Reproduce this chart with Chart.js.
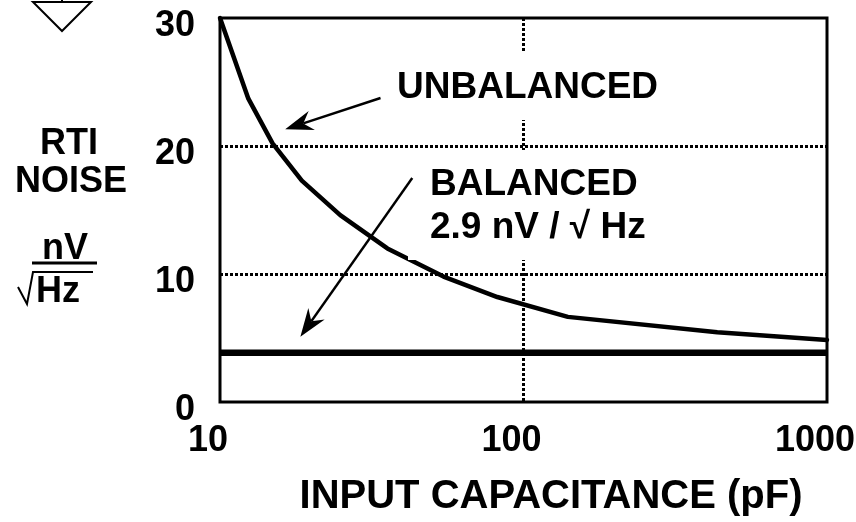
<!DOCTYPE html>
<html>
<head>
<meta charset="utf-8">
<script src="https://cdn.jsdelivr.net/npm/chart.js@4.4.1/dist/chart.umd.min.js"></script>
<style>
  html, body { margin: 0; padding: 0; background: #fff; }
</style>
</head>
<body>
<canvas id="chart" width="856" height="522"></canvas>
<script>
const capacitance = [10, 12.4, 14.9, 18.6, 24.9, 35.6, 54.5, 82, 140, 435, 1000];
const unbalancedNoise = [30, 23.7, 20.2, 17.3, 14.6, 12.0, 9.8, 8.2, 6.65, 5.45, 4.85];
const balancedCapacitance = [10, 1000];
const balancedNoise = [3.85, 3.85];
const xTicks = [10, 100, 1000];
const yTicks = [0, 10, 20, 30];
const gridX = [100];
const gridY = [10, 20];

const FONT = '"Liberation Sans", Arial, Helvetica, sans-serif';
const tickFont = { family: FONT, size: 36, weight: 'bold' };

function points(xs, ys) {
  return xs.map((x, i) => ({ x, y: ys[i] }));
}

function arrow(ctx, x1, y1, x2, y2) {
  const ang = Math.atan2(y2 - y1, x2 - x1);
  const len = 28, half = 10, notch = 19;
  ctx.beginPath();
  ctx.moveTo(x1, y1);
  ctx.lineTo(x2 - Math.cos(ang) * notch, y2 - Math.sin(ang) * notch);
  ctx.lineWidth = 2.4;
  ctx.stroke();
  ctx.save();
  ctx.translate(x2, y2);
  ctx.rotate(ang);
  ctx.beginPath();
  ctx.moveTo(0, 0);
  ctx.lineTo(-len, -half);
  ctx.lineTo(-notch, 0);
  ctx.lineTo(-len, half);
  ctx.closePath();
  ctx.fill();
  ctx.restore();
}

// labels, arrows, frame and the left-hand unit block
const annotations = {
  id: 'annotations',
  afterDatasetsDraw(chart) {
    const { ctx, chartArea: a, scales: { x, y } } = chart;
    ctx.save();
    ctx.strokeStyle = '#000';

    // white boxes behind the curve labels
    ctx.fillStyle = '#fff';
    ctx.fillRect(385, 53, 285, 67);
    ctx.fillRect(408, 150, 247, 110);
    ctx.fillStyle = '#000';

    ctx.font = `bold 37px ${FONT}`;
    ctx.textBaseline = 'middle';
    ctx.textAlign = 'left';
    ctx.fillText('UNBALANCED', 397, 88);
    ctx.fillText('BALANCED', 430, 185);
    ctx.fillText('2.9 nV / \u221A Hz', 430, 228);

    arrow(ctx, x.getPixelForValue(33.8), y.getPixelForValue(23.75),
      x.getPixelForValue(16.4), y.getPixelForValue(21.3));
    arrow(ctx, x.getPixelForValue(43), y.getPixelForValue(17.5),
      x.getPixelForValue(18.4), y.getPixelForValue(5.1));

    // plot frame
    ctx.lineWidth = 3;
    ctx.strokeRect(a.left, a.top, a.right - a.left, a.bottom - a.top);

    // y axis title
    ctx.font = `bold 36px ${FONT}`;
    ctx.textAlign = 'center';
    ctx.fillText('RTI', 69, 144);
    ctx.fillText('NOISE', 71, 182);
    ctx.fillText('nV', 65, 249);
    ctx.fillText('Hz', 58, 292);
    ctx.lineWidth = 3;
    ctx.beginPath();
    ctx.moveTo(32, 263);
    ctx.lineTo(97, 263);
    ctx.stroke();
    ctx.lineWidth = 2;
    ctx.beginPath();
    ctx.moveTo(18, 287);
    ctx.lineTo(27, 304);
    ctx.lineTo(33, 272);
    ctx.lineTo(93, 272);
    ctx.stroke();

    // x axis title
    ctx.font = `bold 40px ${FONT}`;
    ctx.fillText('INPUT CAPACITANCE (pF)', 551, 497);

    // ground symbol cut off at the top
    ctx.lineWidth = 2;
    ctx.beginPath();
    ctx.moveTo(33, 2);
    ctx.lineTo(91, 2);
    ctx.lineTo(62, 31);
    ctx.closePath();
    ctx.moveTo(62, 0);
    ctx.lineTo(62, 2);
    ctx.stroke();
    ctx.restore();
  },
};

new Chart(document.getElementById('chart'), {
  type: 'line',
  data: {
    datasets: [
      {
        label: 'Unbalanced',
        data: points(capacitance, unbalancedNoise),
        borderColor: '#000',
        borderWidth: 4.5,
        borderCapStyle: 'round',
        borderJoinStyle: 'round',
        pointRadius: 0,
        tension: 0,
        clip: false,
      },
      {
        label: 'Balanced',
        data: points(balancedCapacitance, balancedNoise),
        borderColor: '#000',
        borderWidth: 6.5,
        pointRadius: 0,
        tension: 0,
      },
    ],
  },
  options: {
    responsive: false,
    animation: false,
    events: [],
    layout: { padding: { left: 0, right: 29, top: 18, bottom: 0 } },
    plugins: { legend: { display: false }, tooltip: { enabled: false } },
    scales: {
      x: {
        type: 'logarithmic',
        min: 10,
        max: 1000,
        afterBuildTicks: (axis) => { axis.ticks = xTicks.map((value) => ({ value })); },
        afterFit: (axis) => { axis.height = 120; axis.paddingLeft = 0; axis.paddingRight = 0; },
        ticks: {
          callback: (value) => String(value),
          font: tickFont,
          color: '#000',
          padding: 17,
          labelOffset: -12,
          autoSkip: false,
          maxRotation: 0,
        },
        grid: {
          drawTicks: false,
          lineWidth: 3,
          color: (c) => (c.tick && gridX.includes(c.tick.value) ? '#000' : 'rgba(0,0,0,0)'),
        },
        border: { display: false, dash: [3, 2] },
      },
      y: {
        min: 0,
        max: 30,
        afterBuildTicks: (axis) => { axis.ticks = yTicks.map((value) => ({ value })); },
        afterFit: (axis) => { axis.width = 220; axis.paddingTop = 0; axis.paddingBottom = 0; },
        ticks: {
          font: tickFont,
          color: '#000',
          padding: 25,
          labelOffset: 8,
        },
        grid: {
          drawTicks: false,
          lineWidth: 3,
          color: (c) => (c.tick && gridY.includes(c.tick.value) ? '#000' : 'rgba(0,0,0,0)'),
        },
        border: { display: false, dash: [3, 2] },
      },
    },
  },
  plugins: [annotations],
});
</script>
</body>
</html>
